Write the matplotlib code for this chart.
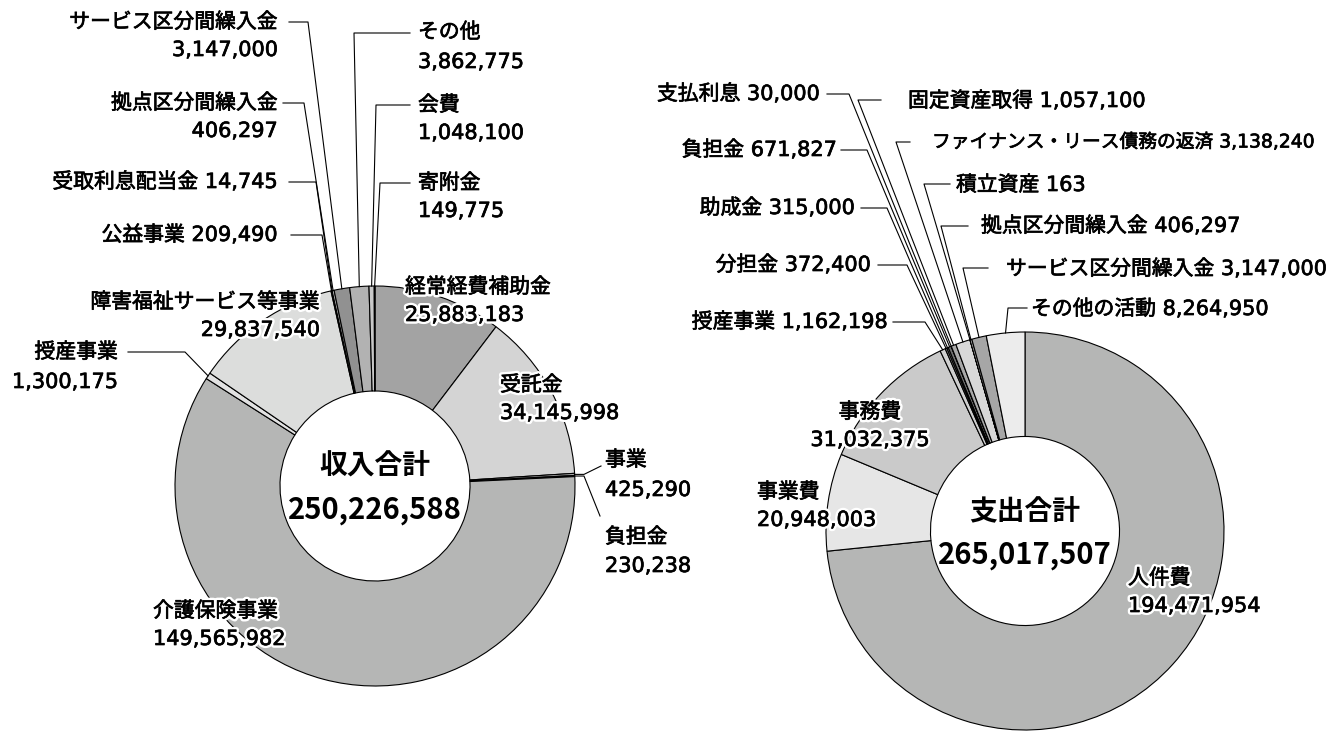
import numpy as np
import matplotlib
matplotlib.use("Agg")
import matplotlib.pyplot as plt
import matplotlib.patheffects as pe

plt.rcParams['font.family'] = ['DejaVu Sans', 'Noto Sans CJK JP']

# 収入 (clockwise from 12 o'clock)
income_names = ["経常経費補助金", "受託金", "事業", "負担金", "介護保険事業", "授産事業",
                "障害福祉サービス等事業", "公益事業", "受取利息配当金", "拠点区分間繰入金",
                "サービス区分間繰入金", "その他", "会費", "寄附金"]
income_values = [25883183, 34145998, 425290, 230238, 149565982, 1300175,
                 29837540, 209490, 14745, 406297, 3147000, 3862775, 1048100, 149775]
income_colors = ["#a3a3a3", "#d4d4d4", "#b0b0b0", "#808080", "#b5b6b5", "#e2e2e2",
                 "#dcdddc", "#c8c8c8", "#999999", "#c0c0c0", "#919191", "#b2b2b2",
                 "#c8c8c8", "#a0a0a0"]

# 支出 (clockwise from 12 o'clock)
expense_names = ["人件費", "事業費", "事務費", "授産事業", "分担金", "助成金", "負担金",
                 "支払利息", "固定資産取得", "ファイナンス・リース債務の返済", "積立資産",
                 "拠点区分間繰入金", "サービス区分間繰入金", "その他の活動"]
expense_values = [194471954, 20948003, 31032375, 1162198, 372400, 315000, 671827,
                  30000, 1057100, 3138240, 163, 406297, 3147000, 8264950]
expense_colors = ["#b5b6b5", "#e6e6e6", "#cacaca", "#d0d0d0", "#909090", "#b0b0b0",
                  "#707070", "#a0a0a0", "#a8a8a8", "#d8d8d8", "#999999", "#c0c0c0",
                  "#a6a6a6", "#ececec"]

# label layout: (x, y_name, y_value or None for one line, ha, halo, leader points)
income_layout = [
    (405, 287, 315, 'left', True, None),
    (500, 385, 413, 'left', True, None),
    (605, 460, 490, 'left', False, [(584, None), (601, 466)]),
    (605, 537, 566, 'left', False, [(584, None), (600, 516)]),
    (153, 611, 639, 'left', True, None),
    (118, 352, 382, 'right', False, [(185, 352), (128, 352)]),
    (320, 302, 330, 'right', True, None),
    (278, 235, None, 'right', False, [(322, 235), (291, 235)]),
    (278, 182, None, 'right', False, [(316, 182), (289, 182)]),
    (278, 103, 131, 'right', False, [(304, 103), (283, 103)]),
    (278, 22, 50, 'right', False, [(308, 22), (289, 22)]),
    (418, 32, 62, 'left', False, [(354, 33), (410, 33)]),
    (418, 105, 133, 'left', False, [(376, 105), (410, 105)]),
    (418, 183, 211, 'left', False, [(380, 183), (410, 183)]),
]

expense_layout = [
    (1128, 578, 606, 'left', True, None),
    (757, 492, 520, 'left', True, None),
    (870, 412, 440, 'center', True, None),
    (888, 322, None, 'right', False, [(925, 322), (893, 322)]),
    (871, 265, None, 'right', False, [(907, 265), (878, 265)]),
    (855, 208, None, 'right', False, [(887, 208), (861, 208)]),
    (837, 150, None, 'right', False, [(867, 150), (841, 150)]),
    (820, 94, None, 'right', False, [(849, 94), (827, 94)]),
    (908, 101, None, 'left', False, [(858, 100), (881, 100)]),
    (932, 142, None, 'left', False, [(896, 142), (910, 142)]),
    (956, 185, None, 'left', False, [(924, 184), (950, 184)]),
    (981, 226, None, 'left', False, [(941, 226), (968, 226)]),
    (1006, 269, None, 'left', False, [(963, 268), (988, 268)]),
    (1031, 309, None, 'left', False, [(1008, 308), (1027, 308)]),
]

W, H = 1338, 733
fig = plt.figure(figsize=(W / 100, H / 100), dpi=100)
ax = fig.add_axes([0, 0, 1, 1])

# slightly heavier text, optional white halo for labels sitting on the ring
plain = [pe.Stroke(linewidth=0.5, foreground='black'), pe.Normal()]
halo = [pe.Stroke(linewidth=4, foreground='white'),
        pe.Stroke(linewidth=0.5, foreground='black'), pe.Normal()]
FS = 15
size_override = {"ファイナンス・リース債務の返済": 13.5}


def donut(cx, cy, r, names, values, colors, layout, title):
    ax.pie(values, colors=colors, center=(cx, cy), radius=r, startangle=-90,
           counterclock=True, frame=True,
           wedgeprops=dict(width=r * 0.525, edgecolor='black', linewidth=0.8))
    vals = np.array(values, dtype=float)
    mid = (np.cumsum(vals) - vals / 2) / vals.sum() * 2 * np.pi
    for i, (x, y1, y2, ha, hl, pts) in enumerate(layout):
        eff = halo if hl else plain
        fs = size_override.get(names[i], FS)
        if y2 is None:
            ax.text(x, y1, f"{names[i]} {values[i]:,}", ha=ha, va='center',
                    fontsize=fs, path_effects=eff)
        else:
            ax.text(x, y1, names[i], ha=ha, va='center', fontsize=fs, path_effects=eff)
            ax.text(x, y2, f"{values[i]:,}", ha=ha, va='center', fontsize=fs,
                    path_effects=eff)
        if pts:
            ex = cx + r * np.sin(mid[i])
            ey = cy - r * np.cos(mid[i])
            xs = [ex] + [p[0] for p in pts]
            ys = [ey] + [ey if p[1] is None else p[1] for p in pts]
            ax.plot(xs, ys, color='black', lw=0.8)
    ax.text(cx, cy - 19, title, ha='center', va='center', fontsize=20,
            fontweight='bold', family='Noto Sans CJK JP')
    ax.text(cx, cy + 24, f"{sum(values):,}", ha='center', va='center',
            fontsize=21, fontweight='bold', family='Noto Sans CJK JP')


donut(375, 486, 200, income_names, income_values, income_colors, income_layout, "収入合計")
donut(1025, 531, 199, expense_names, expense_values, expense_colors, expense_layout, "支出合計")

ax.set_xlim(0, W)
ax.set_ylim(H, 0)
ax.axis('off')
fig.savefig("out.png", dpi=100, facecolor='white')
